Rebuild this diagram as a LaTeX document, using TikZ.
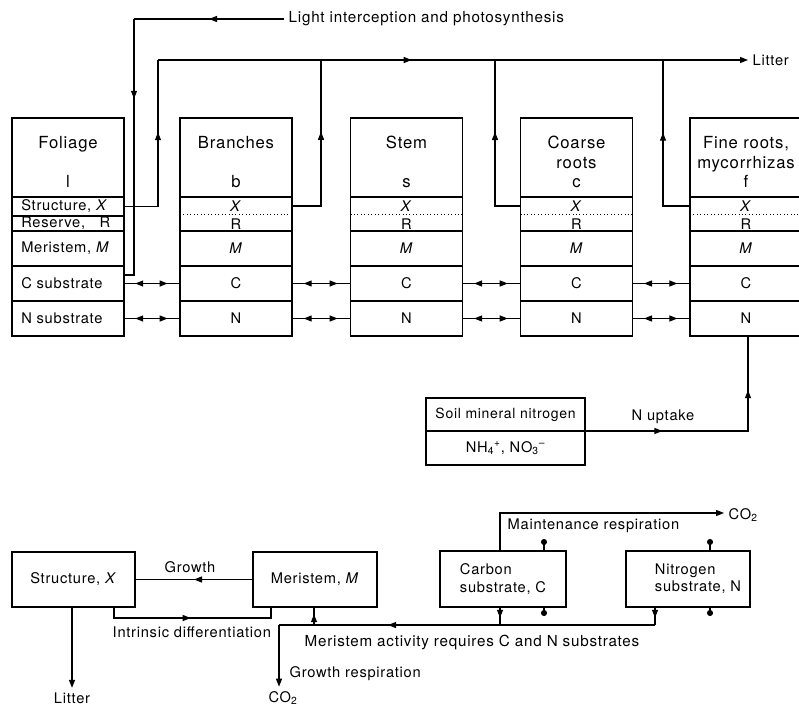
\documentclass[tikz,border=0pt]{standalone}
\usepackage{fontspec}
\setmainfont{TeX Gyre Heros}[LetterSpace=5]
\usetikzlibrary{arrows.meta,decorations.markings}
\begin{document}
\begin{tikzpicture}[x=0.75pt,y=-0.75pt,
  >={Triangle[length=6pt,width=4.5pt]},
  every node/.style={font=\fontsize{11}{13}\selectfont},
  big/.style={font=\fontsize{11.4}{13}\selectfont},
  box/.style={draw, line width=0.9pt, minimum width=84pt, inner sep=0pt, outer sep=0pt},
  line/.style={line width=0.9pt},
  ttl/.style={align=center, font=\fontsize{12.5}{14.6}\selectfont},
  arrat/.style={postaction={decorate}, decoration={markings, mark=at position #1 with {\arrow{>}}}},
  arrtwo/.style 2 args={postaction={decorate}, decoration={markings, mark=at position #1 with {\arrow{>}}, mark=at position #2 with {\arrow{>}}}},
  dbl/.style={line, postaction={decorate}, decoration={markings, mark=at position 0.2 with {\arrowreversed{>}}, mark=at position 0.78 with {\arrow{>}}}},
  dotend/.style={line, -{Circle[length=4.5pt]}}
]
\useasboundingbox (0,0) rectangle (799,707);

% ---------- Foliage column ----------
\node[box, minimum height=59.25pt] (l-t) at (68,157.5) {};
\node[box, minimum height=14.25pt] (l-s) at (68,206.5) {};
\node[box, minimum height=11.25pt] (l-r) at (68,223.5) {};
\node[box, minimum height=26.25pt] (l-m) at (68,248.5) {};
\node[box, minimum height=26.25pt] (l-c) at (68,283.5) {};
\node[box, minimum height=26.25pt] (l-n) at (68,318.5) {};
\node[ttl] (l-tt) at (68,162) {Foliage\\\mbox{}\\l};
\node[anchor=west, inner sep=0pt] (l-st) at (21,206.5) {Structure,~\textit{X}};
\node[anchor=west, inner sep=0pt] (l-rt) at (21,223.5) {Reserve,\hspace{11pt}R};
\node[anchor=west, inner sep=0pt] (l-mt) at (21,248.5) {Meristem,~\textit{M}};
\node[anchor=west, inner sep=0pt] (l-ct) at (21,283.5) {C substrate};
\node[anchor=west, inner sep=0pt] (l-nt) at (21,318.5) {N substrate};

% ---------- other columns ----------
\foreach \n/\x/\t in {b/236/{Branches\\\mbox{}\\b}, s/406.5/{Stem\\\mbox{}\\s}, c/576.5/{Coarse\\roots\\c}, f/746/{Fine roots,\\mycorrhizas\\f}} {
  \node[box, minimum height=59.25pt] (\n-t) at (\x,157.5) {};
  \node[ttl] (\n-tt) at (\x,162) {\t};
  \node[box, minimum height=25.5pt] (\n-x) at (\x,214) {};
  \draw[dotted, line width=0.6pt] (\n-x.west) -- (\n-x.east);
  \node (\n-xt) at (\x,206) {\textit{X}};
  \node (\n-rt) at (\x,224) {R};
  \node[box, minimum height=26.25pt] (\n-m) at (\x,248.5) {\textit{M}};
  \node[box, minimum height=26.25pt] (\n-c) at (\x,283.5) {C};
  \node[box, minimum height=26.25pt] (\n-n) at (\x,318.5) {N};
}

% ---------- substrate exchanges ----------
\foreach \p/\q in {l/b,b/s,s/c,c/f} {
  \draw[dbl] (\p-c.east) -- (\q-c.west);
  \draw[dbl] (\p-n.east) -- (\q-n.west);
}

% ---------- light interception ----------
\node[anchor=west, big] (light) at (284,19) {Light interception and photosynthesis};
\coordinate (L1) at (134,19);
\coordinate (L2) at (134,275);
\draw[line, arrat=0.5] (light.west) -- (L1);
\draw[line, arrat=0.3] (L1) -- (L2) -- (l-c.east |- L2);

% ---------- litter ----------
\node[anchor=west] (litter) at (748,60) {Litter};
\coordinate (T1) at (158,60);
\coordinate (T2) at (321,60);
\coordinate (T3) at (495,60);
\coordinate (T4) at (663,60);
\draw[line, arrat=0.6] (l-s.east) -| (T1);
\draw[line, ->, arrat=0.43] (T1) -- (litter.west);
\draw[line, arrat=0.59] ([yshift=6pt]b-x.east) -| (T2);
\draw[line, arrat=0.58] ([yshift=6pt]c-x.west) -| (T3);
\draw[line, arrat=0.58] ([yshift=6pt]f-x.west) -| (T4);

% ---------- soil nitrogen ----------
\node[box, minimum width=119.25pt, minimum height=24.75pt, font=\fontsize{10.5}{12}\selectfont] (soil) at (505.5,414.5) {Soil mineral nitrogen};
\node[box, minimum width=119.25pt, minimum height=25.5pt] (nh) at (505.5,448) {NH\textsubscript{4}\textsuperscript{+}, NO\textsubscript{3}\textsuperscript{--}};
\coordinate (U1) at (748,431);
\draw[line, arrtwo={0.30}{0.79}] (soil.south east) -- (U1) -- (f-n.south -| U1);
\node (upt) at (663,417) {N uptake};

% ---------- lower scheme ----------
\node[box, minimum width=92.25pt, minimum height=41.25pt] (sx) at (73.5,579.5) {Structure, \textit{X}};
\node[box, minimum width=93pt, minimum height=41.25pt] (mx) at (315,579.5) {Meristem, \textit{M}};
\node[box, minimum width=94.5pt, minimum height=42pt, align=left] (cb) at (503,579) {Carbon\\substrate, C};
\node[box, minimum width=93pt, minimum height=42pt] (nb) at (688,579) {};
\node[align=left] (nbt) at (698,579) {Nitrogen\\substrate, N};

\draw[line, arrat=0.5] (mx.west) -- (sx.east);
\node (growth) at (190,567) {Growth};
\coordinate (I1) at (114,618);
\coordinate (I2) at (271,618);
\draw[line, arrat=0.49] (sx.south -| I1) -- (I1) -- (I2) -- (mx.south -| I2);
\node[anchor=west] (intr) at (108,632) {Intrinsic differentiation};
\node (sxl) at (72,698) {Litter};
\draw[line, ->] (sx.south -| sxl.north) -- (sxl.north);

\coordinate (MA1) at (655,625);
\coordinate (MA0) at (279,625);
\coordinate (CB1) at (500,625);
\coordinate (MU) at (314,625);
\node (co2b) at (283,698) {CO\textsubscript{2}};
\draw[line, arrat=0.6] (nb.south -| MA1) -- (MA1);
\draw[line, arrat=0.71] (MA1) -- (MA0);
\draw[line, ->] (MA0) -- (MA0 |- co2b.north);
\draw[line, arrat=0.6] (cb.south -| CB1) -- (CB1);
\draw[line, arrat=0.6] (MU) -- (mx.south -| MU);
\node[anchor=west, big] (mact) at (300,642) {Meristem activity requires C and N substrates};
\node[anchor=west] (grr) at (285,674) {Growth respiration};

\coordinate (MR1) at (500,513);
\node[anchor=west] (co2a) at (724,515) {CO\textsubscript{2}};
\draw[line, ->] (cb.north -| MR1) -- (MR1) -- (MR1 -| co2a.west);
\node[anchor=west] (mres) at (503,526) {Maintenance respiration};

\coordinate (D1) at (544,539);
\coordinate (D2) at (710,539);
\coordinate (D3) at (544,616);
\coordinate (D4) at (710,616);
\draw[dotend] (cb.north -| D1) -- (D1);
\draw[dotend] (nb.north -| D2) -- (D2);
\draw[dotend] (cb.south -| D3) -- (D3);
\draw[dotend] (nb.south -| D4) -- (D4);
\end{tikzpicture}
\end{document}
